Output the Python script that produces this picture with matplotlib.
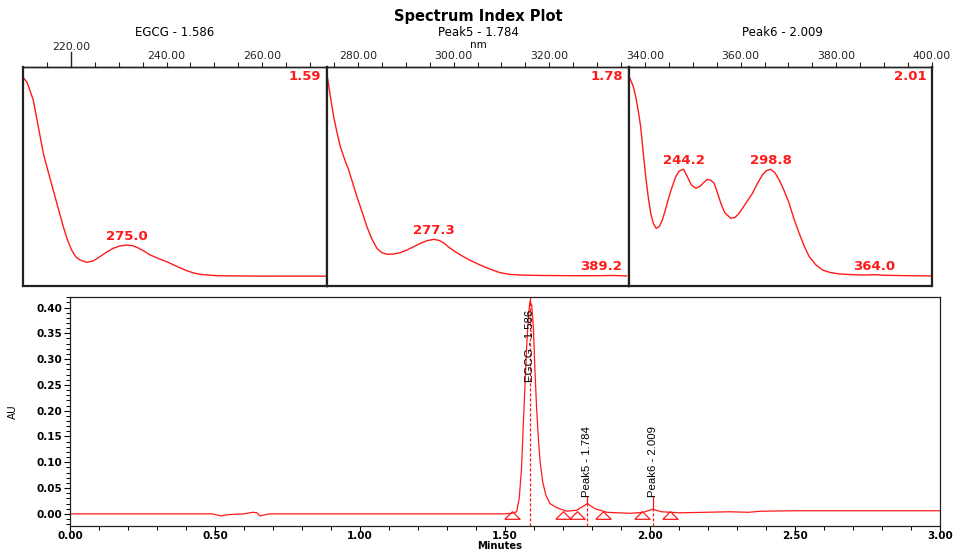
import matplotlib.pyplot as plt
from matplotlib.ticker import MultipleLocator, FixedLocator, FormatStrFormatter
import matplotlib.transforms as mtransforms

# Chromatogram trace: retention time (min) and absorbance (AU)
time_min = [0.00, 0.25, 0.49, 0.52, 0.54, 0.56, 0.60, 0.63, 0.645, 0.655, 0.67, 0.69,
            0.80, 1.00, 1.25, 1.50, 1.523, 1.540, 1.549, 1.557, 1.563, 1.569, 1.575,
            1.581, 1.586, 1.592, 1.598, 1.603, 1.609, 1.615, 1.621, 1.630, 1.641,
            1.655, 1.678, 1.713, 1.747, 1.765, 1.784, 1.810, 1.851, 1.931, 1.977,
            2.009, 2.040, 2.103, 2.276, 2.340, 2.380, 2.50, 2.70, 2.90, 3.00]
au = [0.000, 0.000, 0.000, -0.004, -0.002, -0.001, 0.000, 0.003, 0.002, -0.004, -0.002, 0.000,
      0.000, 0.000, 0.000, 0.000, 0.001, 0.004, 0.030, 0.088, 0.172, 0.250, 0.328,
      0.386, 0.412, 0.405, 0.360, 0.282, 0.205, 0.146, 0.101, 0.062, 0.036,
      0.020, 0.012, 0.005, 0.007, 0.013, 0.020, 0.010, 0.003, 0.001, 0.003,
      0.009, 0.004, 0.002, 0.004, 0.003, 0.005, 0.006, 0.006, 0.006, 0.006]

peak_names = ['EGCG - 1.586', 'Peak5 - 1.784', 'Peak6 - 2.009']
peak_rt = [1.586, 1.784, 2.009]
peak_au = [0.412, 0.020, 0.009]
label_au = [0.256, 0.033, 0.033]

# integration start / end markers
marker_rt = [1.523, 1.701, 1.747, 1.839, 1.971, 2.069]
marker_au = [-0.003, -0.003, -0.003, -0.003, -0.003, -0.003]

# UV spectra at each peak apex (wavelength nm, relative absorbance)
spec1_nm = [210.6, 212.5, 214.5, 216.4, 219.5, 222.7, 225.8, 228.9, 232.0, 235.2, 237.8,
            240.4, 243.0, 245.6, 249.8, 254.0, 258.1, 262.3, 266.4, 270.6, 275.0, 278.5,
            281.1, 285.0, 289.4, 294.5, 299.8, 306.0, 312.3, 316.5, 320.6, 331.1, 345.0,
            360.0, 380.0, 399.0]
spec1_abs = [0.948, 0.930, 0.890, 0.849, 0.730, 0.606, 0.520, 0.438, 0.355, 0.271, 0.210,
             0.164, 0.133, 0.119, 0.108, 0.115, 0.134, 0.155, 0.172, 0.183, 0.187, 0.184,
             0.177, 0.162, 0.142, 0.126, 0.111, 0.090, 0.070, 0.060, 0.053, 0.047, 0.046,
             0.045, 0.045, 0.045]

spec2_nm = [210.4, 212.0, 214.2, 216.3, 218.4, 221.0, 223.6, 226.2, 228.8, 232.0, 235.1,
            238.2, 241.4, 244.5, 247.7, 252.0, 256.0, 260.2, 264.4, 268.6, 272.8, 277.3,
            280.5, 283.2, 287.0, 291.0, 295.8, 301.0, 306.3, 312.5, 318.8, 325.0, 331.4,
            345.0, 365.0, 380.0, 389.2, 398.4]
spec2_abs = [0.948, 0.870, 0.773, 0.700, 0.636, 0.580, 0.530, 0.470, 0.408, 0.340, 0.271,
             0.215, 0.172, 0.152, 0.145, 0.146, 0.152, 0.164, 0.179, 0.194, 0.207, 0.213,
             0.208, 0.198, 0.175, 0.155, 0.134, 0.114, 0.096, 0.077, 0.061, 0.053, 0.050,
             0.048, 0.047, 0.047, 0.048, 0.046]

spec3_nm = [210.6, 212.5, 214.2, 215.8, 217.3, 218.9, 220.5, 222.0, 223.6, 225.3, 227.1,
            229.0, 230.9, 233.0, 235.1, 237.2, 239.3, 241.5, 244.2, 246.6, 249.0, 251.9,
            254.5, 257.0, 259.1, 261.3, 263.4, 265.5, 267.6, 270.0, 273.8, 276.5, 279.0,
            283.0, 287.4, 290.5, 293.7, 296.0, 298.8, 301.5, 304.2, 307.3, 310.4, 313.5,
            316.7, 319.8, 323.0, 327.0, 331.3, 336.0, 341.8, 350.0, 358.0, 364.0, 370.0,
            385.0, 399.3]
spec3_abs = [0.948, 0.915, 0.865, 0.800, 0.728, 0.610, 0.499, 0.410, 0.332, 0.285, 0.263,
             0.272, 0.301, 0.352, 0.408, 0.456, 0.499, 0.525, 0.533, 0.499, 0.462, 0.446,
             0.455, 0.474, 0.487, 0.483, 0.469, 0.425, 0.378, 0.335, 0.309, 0.313, 0.332,
             0.375, 0.423, 0.468, 0.507, 0.526, 0.533, 0.517, 0.484, 0.435, 0.378, 0.305,
             0.241, 0.183, 0.134, 0.098, 0.073, 0.062, 0.055, 0.052, 0.050, 0.052, 0.049,
             0.047, 0.046]

spectra = [(spec1_nm, spec1_abs), (spec2_nm, spec2_abs), (spec3_nm, spec3_abs)]
spec_rt_labels = ['1.59', '1.78', '2.01']
spec_titles = ['EGCG - 1.586', 'Peak5 - 1.784', 'Peak6 - 2.009']
spec_peaks = [[275.0], [277.3, 389.2], [244.2, 298.8, 364.0]]

RED = '#ff1a1a'
W, H = 956, 551

fig = plt.figure(figsize=(W / 100, H / 100), dpi=100)


def fx(px):
    return px / W


def fy(px):
    return 1 - px / H


# ---- spectrum panels ----
panel_edges = [23, 327, 629, 932]
top_px, bot_px = 67, 286
for i, (nm, ab) in enumerate(spectra):
    x0, x1 = panel_edges[i], panel_edges[i + 1]
    ax = fig.add_axes([fx(x0), fy(bot_px), fx(x1 - x0), (bot_px - top_px) / H])
    ax.plot(nm, ab, color=RED, lw=1.0)
    ax.set_xlim(210, 400)
    ax.set_ylim(0, 1)
    ax.set_xticks([])
    ax.set_yticks([])
    for side, sp in ax.spines.items():
        sp.set_color('#222222')
        sp.set_linewidth(1.0 if side == 'top' else 1.6)
    ax.text(0.982, 0.985, spec_rt_labels[i], transform=ax.transAxes, ha='right', va='top',
            color=RED, fontsize=9.5, fontweight='bold')
    for wl in spec_peaks[i]:
        yv = ab[nm.index(wl)]
        dx = -7.5 if wl == 389.2 else 0
        ax.annotate(f'{wl:.1f}', xy=(wl, yv), xytext=(dx, 6.2), textcoords='offset points',
                    ha='center', va='center', color=RED, fontsize=9.5, fontweight='bold')
    fig.text(fx([175, 478, 782][i]), fy(32), spec_titles[i], ha='center', va='center',
             fontsize=8.5)

# shared wavelength axis along the top of the panels
ax_nm = fig.add_axes([fx(23), fy(bot_px), fx(932 - 23), (bot_px - top_px) / H],
                     facecolor='none')
ax_nm.set_xlim(210, 400)
ax_nm.set_ylim(0, 1)
ax_nm.xaxis.tick_top()
ax_nm.set_xticks(list(range(240, 401, 20)))
ax_nm.set_xticklabels([f'{v:.2f}' for v in range(240, 401, 20)])
ax_nm.xaxis.set_minor_locator(FixedLocator([v for v in range(215, 400, 5)
                                            if v % 20 != 0 and v != 220]))
ax_nm.tick_params(axis='x', which='both', direction='out', length=3.5, width=0.8, pad=0.5,
                  labelsize=7.8, colors='#222222')
ax_nm.set_yticks([])
for side in ['left', 'right', 'bottom']:
    ax_nm.spines[side].set_visible(False)
ax_nm.spines['top'].set_linewidth(1.0)
ax_nm.spines['top'].set_color('#222222')
blend = mtransforms.blended_transform_factory(ax_nm.transData, ax_nm.transAxes)
long_tick = 15 / (bot_px - top_px)
ax_nm.plot([220, 220], [1, 1 + long_tick], color='#222222', lw=1.0, transform=blend,
           clip_on=False)
ax_nm.text(220, 1 + long_tick, '220.00', transform=blend, ha='center', va='bottom',
           fontsize=7.8, color='#222222')

fig.text(fx(478), fy(17), 'Spectrum Index Plot', ha='center', va='center',
         fontsize=10.5, fontweight='bold')
fig.text(fx(478), fy(45), 'nm', ha='center', va='center', fontsize=7.5)

# ---- chromatogram ----
ax_c = fig.add_axes([fx(70), fy(525.7), fx(870), 229 / H])
ax_c.plot(time_min, au, color=RED, lw=0.9)
ax_c.set_xlim(0, 3.0)
ax_c.set_ylim(-0.023, 0.421)
ax_c.xaxis.set_major_locator(MultipleLocator(0.5))
ax_c.xaxis.set_minor_locator(MultipleLocator(0.1))
ax_c.yaxis.set_major_locator(MultipleLocator(0.05))
ax_c.yaxis.set_minor_locator(MultipleLocator(0.01))
ax_c.xaxis.set_major_formatter(FormatStrFormatter('%.2f'))
ax_c.yaxis.set_major_formatter(FormatStrFormatter('%.2f'))
ax_c.tick_params(which='major', direction='out', length=4.5, width=0.8, pad=1.0)
ax_c.tick_params(axis='x', which='major', length=3.5, pad=0)
ax_c.tick_params(which='minor', direction='out', length=3, width=0.7)
for lab in ax_c.get_xticklabels() + ax_c.get_yticklabels():
    lab.set_fontsize(7.5)
    lab.set_fontweight('bold')
for sp in ax_c.spines.values():
    sp.set_linewidth(0.9)
    sp.set_color('#222222')

tri = [(-1, -0.5), (1, -0.5), (0, 0.5), (-1, -0.5)]
ax_c.plot(marker_rt, marker_au, linestyle='none', marker=tri, markersize=11,
          markerfacecolor='none', markeredgecolor=RED, markeredgewidth=0.9)

for name, rt, h, lb in zip(peak_names, peak_rt, peak_au, label_au):
    ax_c.plot([rt, rt], [-0.023, h], color=RED, lw=0.9, linestyle=(0, (2.5, 1.5)),
              clip_on=False)
    ax_c.plot([rt, rt], [h, max(lb, h + 0.008)], color=RED, lw=0.9)
    ax_c.text(rt, lb, name, rotation=90, ha='center', va='bottom', fontsize=8.2,
              family=['Liberation Sans Narrow', 'Liberation Sans', 'DejaVu Sans'],
              fontstretch='condensed')

fig.text(fx(500), fy(551), 'Minutes', ha='center', va='bottom', fontsize=7.2,
         fontweight='bold')
fig.text(fx(13), fy(412), 'AU', rotation=90, ha='center', va='center', fontsize=7.5)

fig.savefig('out.png', dpi=100)
